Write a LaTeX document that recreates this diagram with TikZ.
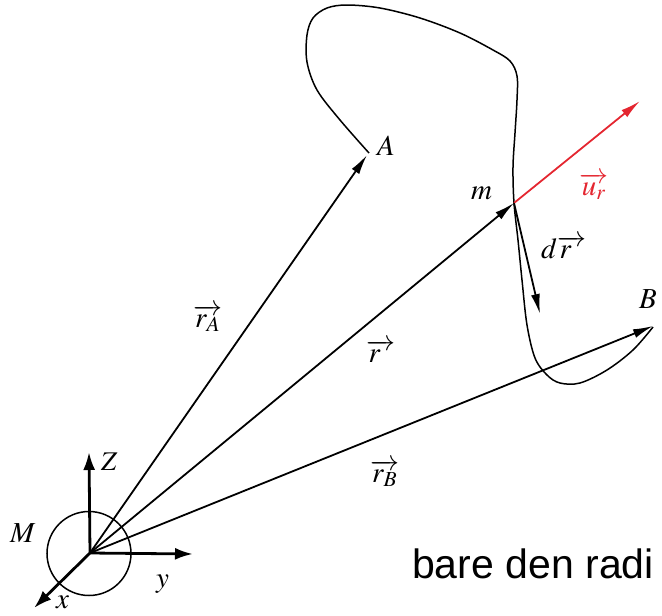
\documentclass[tikz,border=0pt]{standalone}
\usepackage[no-math]{fontspec}
\usepackage{mathptmx}
\newfontfamily\arialfont{Liberation Sans}
\usetikzlibrary{arrows.meta}
\definecolor{ured}{RGB}{228,38,48}
\tikzset{
  vec/.style={line width=1.8pt, -{Latex[length=20pt,width=9pt]}},
  axisarrow/.style={line width=2.8pt, -{Latex[length=18pt,width=12pt]}},
  lab/.style={font=\fontsize{29}{34}\selectfont, inner sep=0pt, anchor=base west},
  traj/.style={line width=1.5pt}
}
\begin{document}
\begin{tikzpicture}[x=1pt,y=-1pt]
\useasboundingbox (0,0) rectangle (662,616);
% points
\coordinate (O) at (90,553);
\coordinate (A) at (367,155);
\coordinate (m) at (514,203);
\coordinate (B) at (653,326);
\coordinate (U) at (640,101);
\coordinate (D) at (540,314);
\coordinate (Zt) at (89,452);
\coordinate (Yt) at (193,554);
\coordinate (Xt) at (34,608);
% trajectory
\draw[traj] plot[smooth, tension=0.55] coordinates {
 (369,153) (340,120) (317,90) (307,62) (307,35) (313,18) (327,8) (347,5)
 (380,8) (420,18) (460,33) (493,50) (510,61) (517,76) (517,100) (515,133)
 (513,167) (514,203) (518,240) (522,280) (527,325) (535,358) (547,375)
 (560,383) (580,383) (607,370) (633,350) (653,327)};
% body M
\node[circle, draw, line width=1.5pt, minimum size=84pt, inner sep=0pt] (Mc) at (89,553.5) {};
% axes
\draw[axisarrow] (O) -- (Zt);
\draw[axisarrow] (O) -- (Yt);
\draw[axisarrow] (O) -- (Xt);
% vectors
\draw[vec] (O) -- (A);
\draw[vec] (O) -- (m);
\draw[vec] (O) -- (B);
\draw[vec, ured] (m) -- (U);
\draw[vec] (m) -- (D);
% labels
\node[lab] (lA) at (377,155) {$A$};
\node[lab] (lm) at (471,199) {$m$};
\node[lab, text=ured] (lu) at (579,195) {$\overrightarrow{u_r}$};
\node[lab] (ldr) at (541,258) {$d\overrightarrow{r\hspace{12pt}}$};
\node[lab] (lB) at (639,308) {$B$};
\node[lab] (lrA) at (193,327) {$\overrightarrow{r_A}$};
\node[lab] (lr) at (366,362) {$\overrightarrow{r\hspace{12pt}}$};
\node[lab] (lrB) at (370,482) {$\overrightarrow{r_B}$};
\node[lab] (lM) at (10,542) {$M$};
\node[lab, font=\fontsize{27}{32}\selectfont] (lz) at (101,470) {$Z$};
\node[lab] (ly) at (156,587) {$y$};
\node[lab] (lx) at (56,608) {$x$};
\node[anchor=base west, inner sep=0pt, font=\arialfont\fontsize{41}{48}\selectfont] (txt) at (412,578) {bare den radi};
\end{tikzpicture}
\end{document}
